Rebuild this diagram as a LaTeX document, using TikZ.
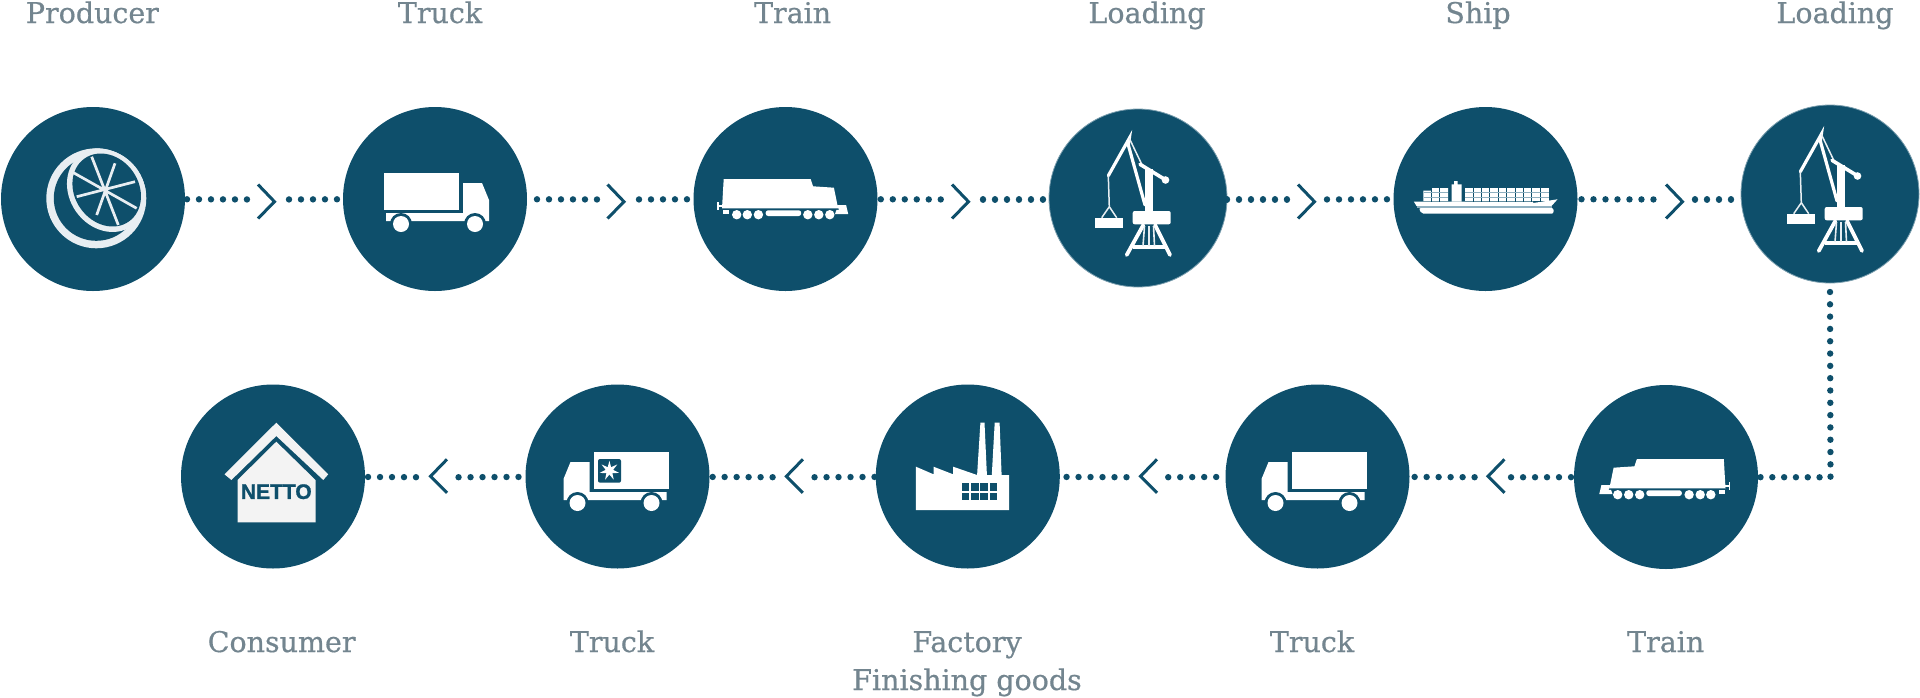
\documentclass[tikz,border=0pt]{standalone}
\usepackage{fontspec}
\setmainfont{DejaVu Serif}
\newfontfamily\labelfont[FakeBold=0.6]{DejaVu Serif}
\newfontfamily\signfont[FakeBold=1.2]{Liberation Sans Bold}
\usepackage{xcolor}
\usetikzlibrary{shapes.geometric}
\definecolor{seablue}{HTML}{0E4F6B}
\definecolor{labelgray}{HTML}{73858F}
\definecolor{peelwhite}{HTML}{E8EEF2}
\definecolor{wallwhite}{HTML}{F3F3F3}
\definecolor{rimblue}{HTML}{8FB0C0}
\tikzset{
  chevright/.pic={\draw[seablue,line width=3pt,miter limit=10] (-8.5,-15) -- (8,2.2) -- (-8.5,19);},
  chevleft/.pic={\draw[seablue,line width=3pt,miter limit=10] (8.5,-18) -- (-8,-1) -- (8.5,15.5);},
  lemonicon/.pic={
    \fill[peelwhite] (3.3,-0.7) circle[radius=50];
    \fill[seablue] (3.3,-0.7) circle[radius=42.5];
    \begin{scope}
      \clip (3.3,-0.7) circle[radius=50];
      \fill[peelwhite] (13.7,-9) ellipse[x radius=44,y radius=37.5,rotate=-55];
    \end{scope}
    \fill[seablue] (13.7,-9) ellipse[x radius=38.5,y radius=32,rotate=-55];
    \draw[peelwhite,line width=2.7pt] (-1.3,-42.3) -- (25.3,26) (22,-35.7) -- (3.7,16)
      (-21.3,-27.3) -- (43.7,9.3) (-16.3,-2.3) -- (42,-17.3);
  },
  truckicon/.pic={
    \fill[white] (-51,-26) rectangle (24,11);
    \fill[white] (28,-16) -- (47,-16) -- (54,1) -- (54,22) -- (-49,22) -- (-49,14) -- (28,14) -- cycle;
    \fill[seablue] (-34,25) circle[radius=11] (40,25) circle[radius=11];
    \fill[white] (-34,25) circle[radius=8] (40,25) circle[radius=8];
  },
  trainicon/.pic={
    \fill[white] (-61.8,-20) -- (25.1,-20) -- (27.6,-12.7) -- (48.4,-11.3) -- (52,6.3) -- (53,9.3)
      -- (-63.5,9.3) -- cycle;
    \fill[white] (-62.6,11) rectangle (-56.5,15);
    \fill[white] (51.5,6) -- (60.6,6) -- (62.7,15) -- (49.5,15) -- (51,10.8) -- (53.5,10.8) -- cycle;
    \draw[white,line width=1.2pt] (-67.5,3) -- (-67.5,11) (-67.5,7) -- (-63,7);
    \foreach \wx in {-48.8,-38.2,-27.1,22.3,33.3,44.3}
      \fill[white] (\wx,15.7) circle[radius=4.7];
    \fill[white,rounded corners=2.5pt] (-19.8,11.3) rectangle (15.7,17);
  },
  craneicon/.pic={
    \draw[white,line width=3.2pt,line cap=round] (-29.7,-22.3) -- (-8.7,-59.7) -- (-9.7,-53) -- (7,7);
    \draw[peelwhite,line width=1.5pt] (-29.7,-22.3) -- (-28.7,8.7) -- (-36.3,19.7) (-28.7,8.7) -- (-21.3,19.7)
      (-8.7,-59.7) -- (4.9,-31.3);
    \fill[white] (-43,20.3) rectangle (-14.7,30.3);
    \fill[white] (7,-29) rectangle (15.3,14);
    \draw[white,line width=3.6pt,line cap=round] (2,-33.7) -- (27,-18.5);
    \fill[white] (27.5,-18) circle[radius=3.8];
    \fill[white,rounded corners=2pt] (-5.3,13) rectangle (32.7,26.3);
    \draw[white,line width=3.8pt,line cap=round] (5.3,27) -- (-11.3,57) (17,27) -- (32,57);
    \draw[white,line width=3.6pt] (-5.5,49) -- (26.5,49);
    \draw[peelwhite,line width=1.6pt] (6.5,28) -- (5,48) (11,28) -- (11,48) (15.5,28) -- (16.5,48);
  },
  shipicon/.pic={
    \fill[white] (-71.6,2.7) -- (47.5,2.7) -- (47.5,4) -- (72,0.3) -- (66,7) -- (-69,7) -- cycle;
    \fill[rimblue] (-69,7) rectangle (66,9);
    \fill[white,rounded corners=2pt] (-66.7,9) -- (68,9) -- (68,14.7) -- (-64,14.7) -- cycle;
    \fill[white] (-62.2,-8.3) rectangle (-54,2) (-54,-11) rectangle (-37.3,2);
    \fill[white] (-34,-14.7) rectangle (-23.9,2.7) (-31.5,-18) rectangle (-28,-14);
    \fill[white] (-21,-11) rectangle (63,2);
    \foreach \gx in {-54,-46,-12.6,-4.2,4.2,12.6,21,29.4,37.8,46.2,54.6}
      \draw[seablue,line width=.5pt] (\gx,-11) -- (\gx,2.7);
    \foreach \gy in {-6.5,-2}
      \draw[rimblue,line width=.6pt] (-62,\gy) -- (-37.3,\gy) (-21,\gy) -- (63,\gy);
  },
  factoryicon/.pic={
    \fill[white] (-51.9,33.5) -- (-51.9,-9.8) -- (-34.3,-2.2) -- (-34.3,-9.8) -- (-14.7,-2.2) -- (-14.7,-9.8)
      -- (9.3,-1.5) -- (12.6,-53.8) -- (16.7,-53.8) -- (19.1,-1.5) -- (24,-1.5) -- (26.9,-53.8) -- (31.8,-53.8)
      -- (33.8,-1.5) -- (41.2,-1.5) -- (41.2,33.5) -- cycle;
    \foreach \wx in {-6.2,3.1,12.4,21.7}
      \foreach \wy in {6.8,16.2}
        \fill[seablue] (\wx,\wy) rectangle ++(7.6,7.3);
  },
  houseicon/.pic={
    \fill[wallwhite] (3.3,-53.8) -- (55.2,-2.2) -- (50.3,3.5) -- (3.3,-40.5) -- (-41.6,3.5) -- (-48.5,-2.2) -- cycle;
    \fill[wallwhite] (3.3,-34.8) -- (42.5,3.5) -- (42.5,45.8) -- (-35.4,45.8) -- (-35.4,3.5) -- cycle;
    \node[seablue,inner sep=0pt,font=\signfont\fontsize{21}{21}\selectfont] (netto) at (3.3,15.2) {NETTO};
  },
}
\begin{document}
\begin{tikzpicture}[
    x=1pt, y=-1pt,
    stopdisc/.style={circle,fill=seablue,inner sep=0pt,outer sep=0pt,minimum size=184pt},
    cranedisc/.style={stopdisc,minimum size=178pt,draw=seablue!55,line width=.8pt},
    stoplabel/.style={anchor=base,inner sep=0pt,text=labelgray,font=\labelfont\fontsize{28.5}{28.5}\selectfont},
    dotline/.style={seablue,line width=6.4pt,line cap=round,dash pattern=on 0.01pt off 11.98pt},
  ]
  \useasboundingbox (0,0) rectangle (1920,697);

  \node[stopdisc] (producer) at (93,199) {};
  \node[stopdisc] (truckA) at (435,199) {};
  \node[stopdisc] (trainA) at (785.5,199) {};
  \node[cranedisc] (loadingA) at (1138,198) {};
  \node[stopdisc] (ship) at (1485.5,199) {};
  \node[cranedisc] (loadingB) at (1830,194) {};
  \node[stopdisc] (trainB) at (1666,477) {};
  \node[stopdisc] (truckC) at (1317.5,476.5) {};
  \node[stopdisc] (factory) at (967.8,476.5) {};
  \node[stopdisc] (truckB) at (617.5,476.5) {};
  \node[stopdisc] (consumer) at (273,476.5) {};

  \node[stoplabel] (lproducer) at (92.4,23) {Producer};
  \node[stoplabel] (ltrucka) at (440,23) {Truck};
  \node[stoplabel] (ltraina) at (792.6,23) {Train};
  \node[stoplabel] (lloadinga) at (1147,23) {Loading};
  \node[stoplabel] (lship) at (1478,23) {Ship};
  \node[stoplabel] (lloadingb) at (1835,23) {Loading};
  \node[stoplabel] (lconsumer) at (281.6,652) {Consumer};
  \node[stoplabel] (ltruckb) at (612,652) {Truck};
  \node[stoplabel] (lfactory) at (967,652) {Factory};
  \node[stoplabel] (lfinishing) at (967,690) {Finishing goods};
  \node[stoplabel] (ltruckc) at (1312,652) {Truck};
  \node[stoplabel] (ltrainb) at (1665.7,652) {Train};

  \coordinate (cha) at (266.5,199.5);
  \coordinate (chb) at (616,199.5);
  \coordinate (chc) at (960.5,199.5);
  \coordinate (chd) at (1306.5,199.5);
  \coordinate (che) at (1674.5,199.5);
  \coordinate (chf) at (1496,477.3);
  \coordinate (chg) at (1148.5,477.3);
  \coordinate (chh) at (794.4,477.3);
  \coordinate (chi) at (438.5,477.3);
  \coordinate (turn) at (1830.5,477.3);

  \draw[dotline,shorten <=2pt,shorten >=17pt] (producer) -- (cha);
  \draw[dotline,shorten <=22.5pt] (cha) -- (truckA);
  \draw[dotline,shorten <=10pt,shorten >=17pt] (truckA) -- (chb);
  \draw[dotline,shorten <=23pt] (chb) -- (trainA);
  \draw[dotline,shorten <=3.3pt,shorten >=17pt] (trainA) -- (chc);
  \draw[dotline,shorten <=22.5pt] (chc) -- (chc -| loadingA.west);
  \draw[dotline,shorten >=17pt] (chd -| loadingA.east) -- (chd);
  \draw[dotline,shorten <=20.5pt] (chd) -- (ship);
  \draw[dotline,shorten <=4pt,shorten >=19pt] (ship) -- (che);
  \draw[dotline,shorten <=20.5pt] (che) -- (che -| loadingB.west);
  \draw[dotline,dash pattern=on 0.01pt off 12.3pt] (loadingB.south) ++(0,9) -- (turn);
  \draw[dotline,dash pattern=on 0.01pt off 11.8pt,shorten <=2.5pt] (trainB) -- (turn);
  \draw[dotline,shorten <=3pt,shorten >=14pt] (trainB) -- (chf);
  \draw[dotline,shorten <=21.4pt] (chf) -- (truckC);
  \draw[dotline,shorten <=9.3pt,shorten >=18pt] (truckC) -- (chg);
  \draw[dotline,shorten <=22pt] (chg) -- (factory);
  \draw[dotline,shorten <=1.3pt,shorten >=18pt] (factory) -- (chh);
  \draw[dotline,shorten <=21.8pt] (chh) -- (truckB);
  \draw[dotline,shorten <=7pt,shorten >=18pt] (truckB) -- (chi);
  \draw[dotline,shorten <=22.5pt] (chi) -- (consumer);

  \pic at (cha) {chevright};
  \pic at (chb) {chevright};
  \pic at (chc) {chevright};
  \pic at (chd) {chevright};
  \pic at (che) {chevright};
  \pic at (chf) {chevleft};
  \pic at (chg) {chevleft};
  \pic at (chh) {chevleft};
  \pic at (chi) {chevleft};

  \pic at (93,199) {lemonicon};
  \pic at (435,199) {truckicon};
  \pic at (785.5,199) {trainicon};
  \pic at (1138,198) {craneicon};
  \pic at (1485.5,199) {shipicon};
  \pic at (1830,194) {craneicon};
  \pic[xscale=-1] at (1662,479) {trainicon};
  \pic[xscale=-1] at (1315.5,478) {truckicon};
  \pic at (967.8,476.5) {factoryicon};
  \pic[xscale=-1] at (617.5,478) {truckicon};
  \fill[seablue,rounded corners=2pt] (598,459) rectangle (621,482.7);
  \node[star,star points=7,star point ratio=2.6,fill=white,inner sep=0pt,minimum size=20pt] (logostar) at (609.4,470.7) {};
  \pic at (273,476.5) {houseicon};
\end{tikzpicture}
\end{document}
